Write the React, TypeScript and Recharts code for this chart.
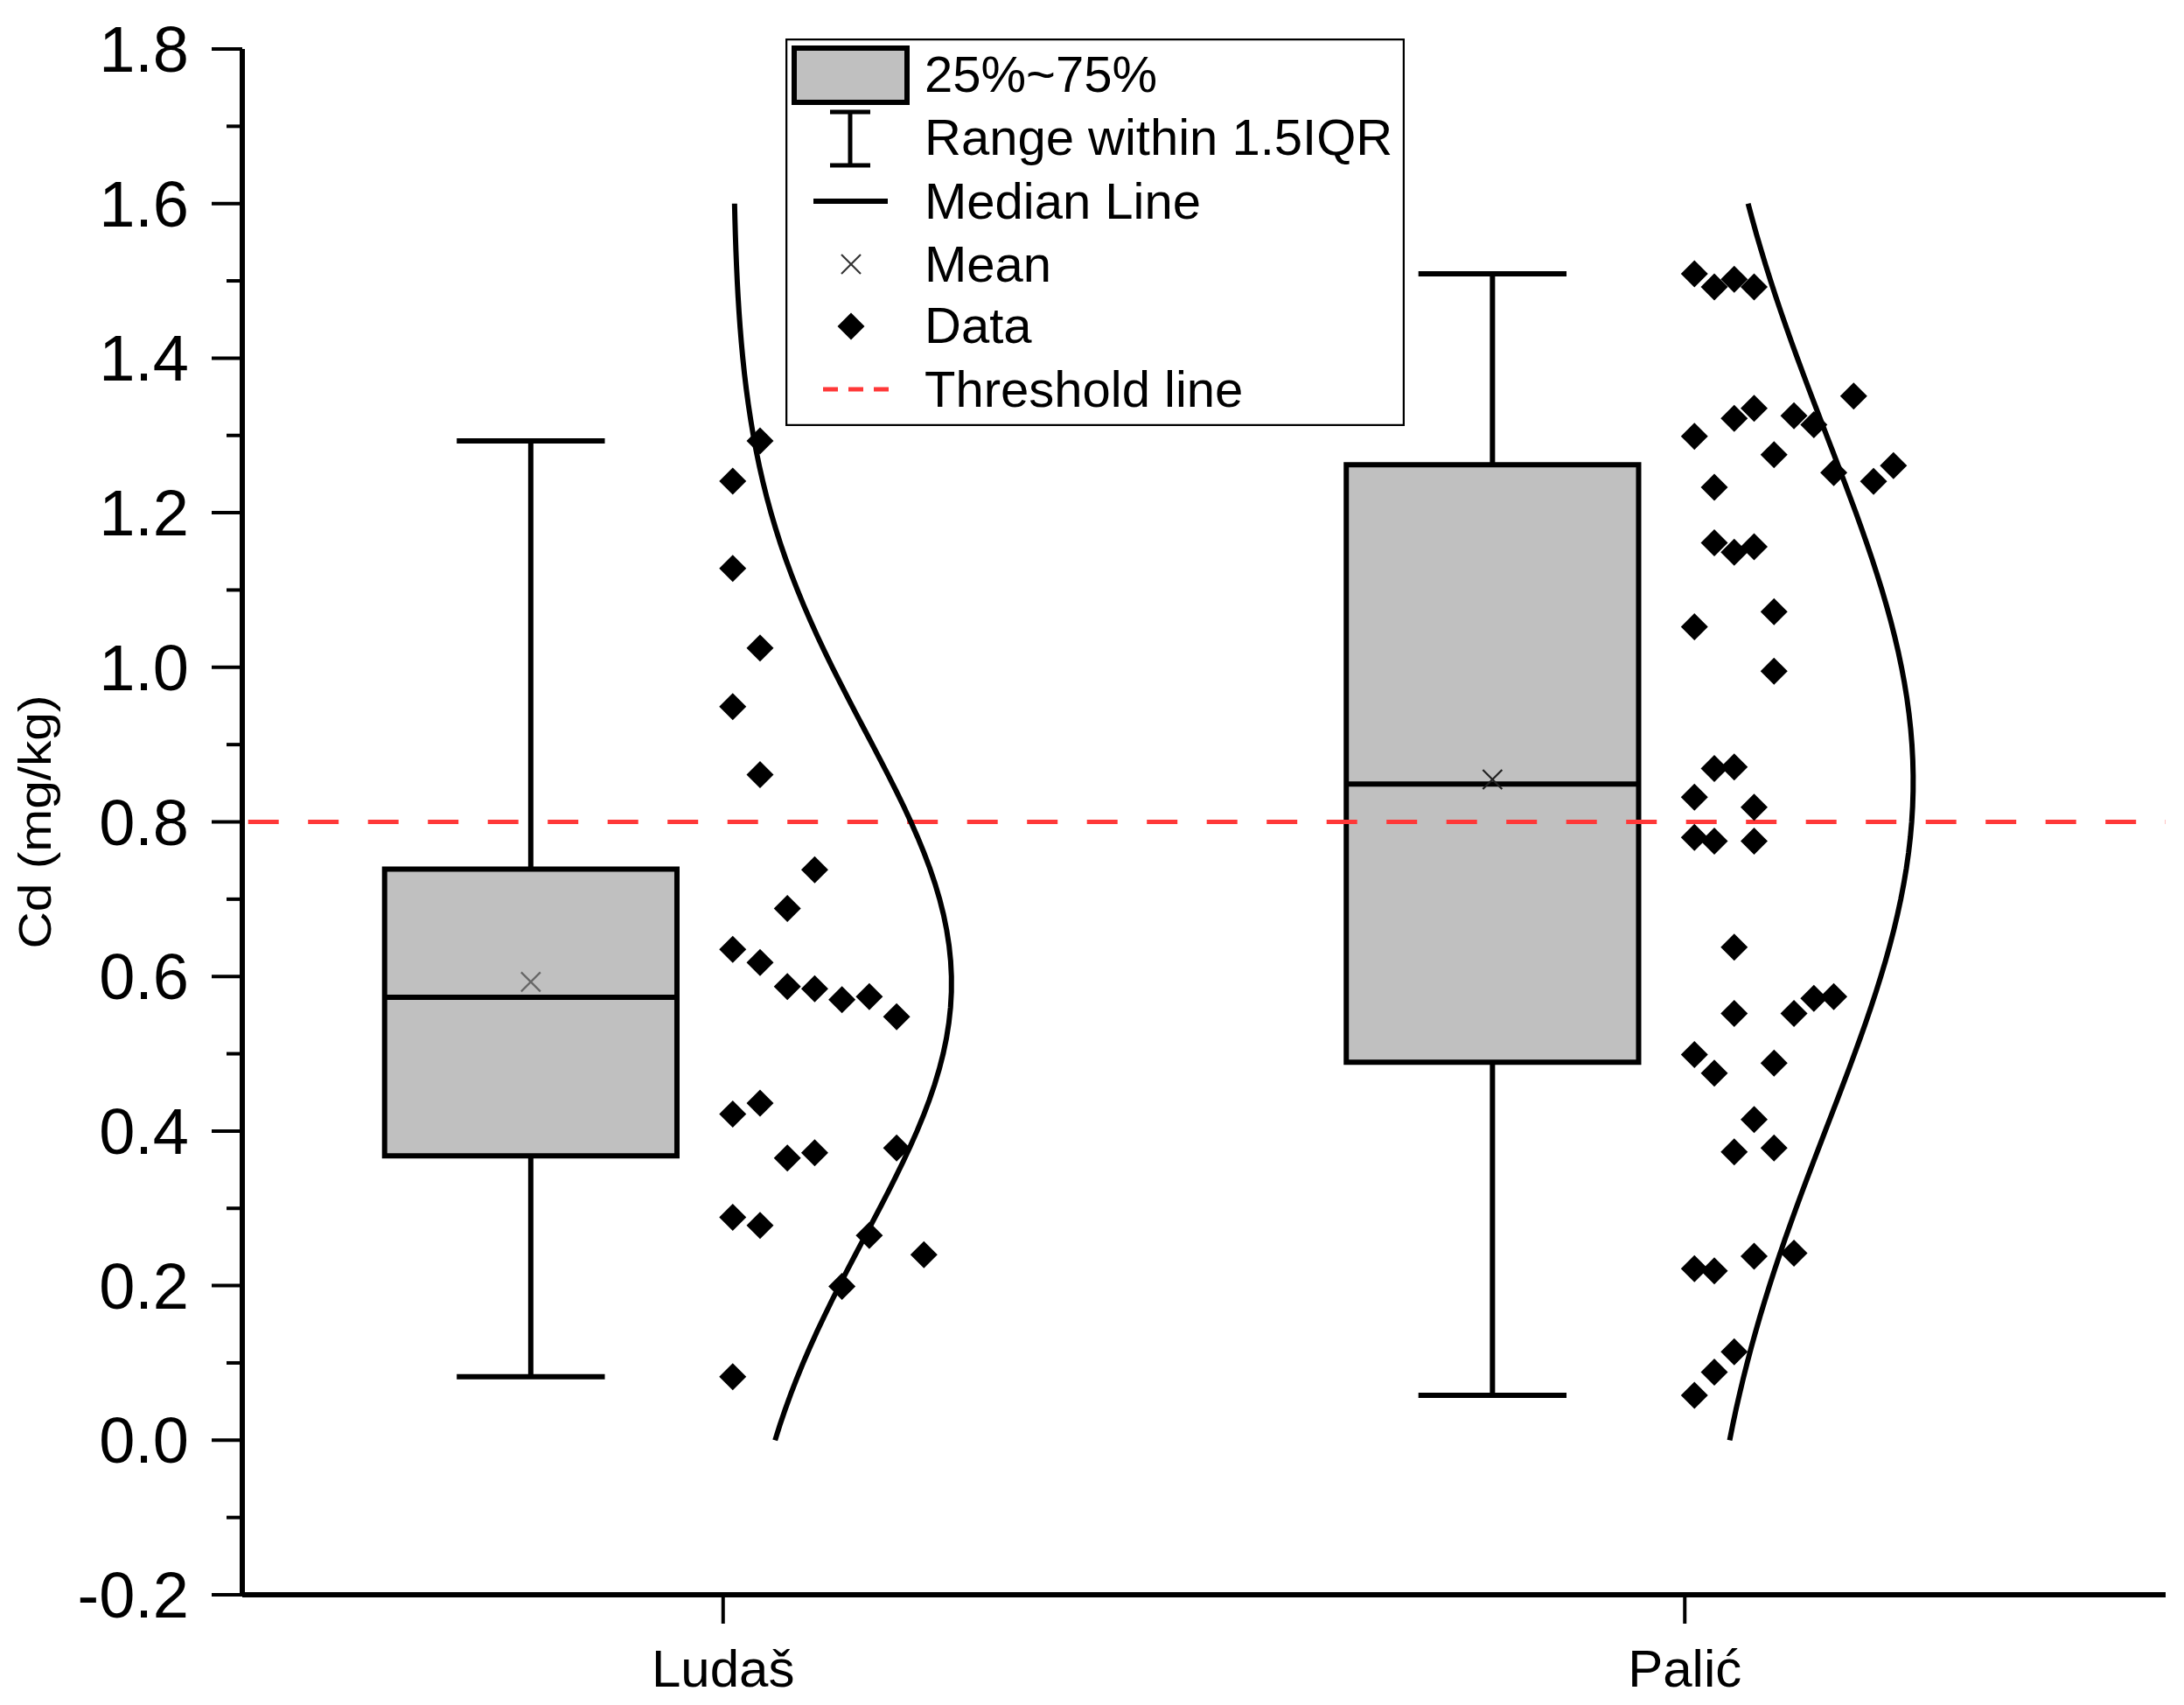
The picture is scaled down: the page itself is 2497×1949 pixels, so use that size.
import React from 'react';
import {
  ComposedChart,
  XAxis,
  YAxis,
  Scatter,
  ReferenceArea,
  ReferenceLine,
  Legend,
} from 'recharts';

// ---------------- data ----------------
const CATEGORIES = ['Ludaš', 'Palić'];
const CATEGORY_POS = [1, 2];

// Ludaš individual samples (Cd, mg/kg) and their beeswarm column
const LUDAS_VALUES = [
  1.293, 1.241, 1.128, 1.025, 0.949, 0.861, 0.738, 0.688, 0.635, 0.618, 0.587, 0.584, 0.57,
  0.574, 0.548, 0.422, 0.436, 0.365, 0.372, 0.378, 0.2885, 0.278, 0.265, 0.24, 0.199, 0.082,
];
const LUDAS_COLS = [1, 0, 0, 1, 0, 1, 3, 2, 0, 1, 2, 3, 4, 5, 6, 0, 1, 2, 3, 6, 0, 1, 5, 7, 4, 0];

// Palić individual samples
const PALIC_VALUES = [
  1.509, 1.492, 1.502, 1.492, 1.351, 1.335, 1.322, 1.3255, 1.314, 1.299, 1.275, 1.252, 1.261,
  1.2405, 1.233, 1.161, 1.149, 1.156, 1.072, 1.0525, 0.995, 0.869, 0.871, 0.832, 0.819, 0.78,
  0.775, 0.775, 0.638, 0.5716, 0.574, 0.552, 0.552, 0.499, 0.475, 0.488, 0.415, 0.373, 0.378,
  0.222, 0.219, 0.238, 0.242, 0.1145, 0.088, 0.058,
];
const PALIC_COLS = [
  0, 1, 2, 3, 8, 3, 2, 5, 6, 0, 4, 7, 10, 9, 1, 1, 2, 3, 4, 0, 4, 1, 2, 0, 3, 0, 1, 3, 2, 6, 7,
  2, 5, 0, 1, 4, 3, 2, 4, 0, 1, 3, 5, 2, 1, 0,
];

// box statistics
const BOX_Q1 = [0.368, 0.489];
const BOX_MEDIAN = [0.573, 0.849];
const BOX_Q3 = [0.739, 1.262];
const WHISKER_LOW = [0.082, 0.058];
const WHISKER_HIGH = [1.293, 1.509];
const MEANS = [0.593, 0.855];

const THRESHOLD = 0.8;
const CURVE_RANGE = [0, 1.6];

const Y_MAJOR_TICKS = [-0.2, 0, 0.2, 0.4, 0.6, 0.8, 1.0, 1.2, 1.4, 1.6, 1.8];
const Y_MINOR_TICKS = [-0.1, 0.1, 0.3, 0.5, 0.7, 0.9, 1.1, 1.3, 1.5, 1.7];
const Y_TITLE = 'Cd (mg/kg)';
const LEGEND_LABELS = ['25%~75%', 'Range within 1.5IQR', 'Median Line', 'Mean', 'Data', 'Threshold line'];

// ---------------- layout / style constants ----------------
const FONT = "'Liberation Sans', Arial, Helvetica, sans-serif";
const BOX_OFFSET = -0.2;
const BOX_HALF = 0.152;
const CAP_HALF = 0.077;
const DATA_OFFSET = 0.01;
const COL_SPACING = [0.0284, 0.0207];
const CURVE_AMP = 0.2275;
const RED = '#ff3838';
const LW = 6;
const MEAN_COLORS = ['#666', '#222'];

const GROUP_VALUES = [LUDAS_VALUES, PALIC_VALUES];
const GROUP_COLS = [LUDAS_COLS, PALIC_COLS];

const pointData = GROUP_VALUES.map((vals, g) =>
  vals.map((v, i) => ({
    x: CATEGORY_POS[g] + DATA_OFFSET + GROUP_COLS[g][i] * COL_SPACING[g],
    y: v,
  }))
);

// normal distribution curve fitted to each group's samples
const curveData = GROUP_VALUES.map((vals, g) => {
  const n = vals.length;
  const mean = vals.reduce((a, b) => a + b, 0) / n;
  const sd = Math.sqrt(vals.reduce((a, b) => a + (b - mean) * (b - mean), 0) / (n - 1));
  const pts: { x: number; y: number }[] = [];
  const steps = 80;
  for (let k = 0; k <= steps; k++) {
    const v = CURVE_RANGE[0] + ((CURVE_RANGE[1] - CURVE_RANGE[0]) * k) / steps;
    const dens = Math.exp(-((v - mean) * (v - mean)) / (2 * sd * sd));
    pts.push({ x: CATEGORY_POS[g] + DATA_OFFSET + CURVE_AMP * dens, y: v });
  }
  return pts;
});

const meanData = MEANS.map((m, g) => ({ x: CATEGORY_POS[g] + BOX_OFFSET, y: m, g }));

const Y_TICKS = [...Y_MAJOR_TICKS, ...Y_MINOR_TICKS].sort((a, b) => a - b);

// ---------------- shapes ----------------
const Diamond = (props: any) => {
  const { cx, cy } = props;
  const r = 15.5;
  return (
    <polygon
      points={`${cx},${cy - r} ${cx + r},${cy} ${cx},${cy + r} ${cx - r},${cy}`}
      fill="#000"
    />
  );
};

const MeanCross = (props: any) => {
  const { cx, cy, payload, color } = props;
  const r = 11;
  const c = color || (payload ? MEAN_COLORS[payload.g] : '#444');
  return (
    <g stroke={c} strokeWidth={2.2}>
      <line x1={cx - r} y1={cy - r} x2={cx + r} y2={cy + r} />
      <line x1={cx - r} y1={cy + r} x2={cx + r} y2={cy - r} />
    </g>
  );
};

const Empty = () => <g />;

const YTick = (props: any) => {
  const { x, y, payload } = props;
  const v = payload.value;
  const major = Y_MAJOR_TICKS.some((t) => Math.abs(t - v) < 1e-6);
  return (
    <g>
      <line x1={x} x2={x - (major ? 35 : 18)} y1={y} y2={y} stroke="#000" strokeWidth={4} />
      {major && (
        <text
          x={x - 61}
          y={y + 26}
          textAnchor="end"
          fontSize={74}
          fontFamily={FONT}
          fill="#000"
        >
          {v.toFixed(1)}
        </text>
      )}
    </g>
  );
};

const XTick = (props: any) => {
  const { x, y, payload } = props;
  const idx = CATEGORY_POS.indexOf(payload.value);
  return (
    <g>
      <line x1={x} x2={x} y1={y} y2={y + 33} stroke="#000" strokeWidth={4} />
      <text x={x} y={y + 105} textAnchor="middle" fontSize={60} fontFamily={FONT} fill="#000">
        {CATEGORIES[idx]}
      </text>
    </g>
  );
};

const YTitle = (props: any) => {
  const vb = props.viewBox || { x: 0, y: 48, width: 269, height: 1767 };
  const cx = vb.x + 32;
  const cy = vb.y + vb.height / 2;
  return (
    <text
      x={cx}
      y={cy}
      transform={`rotate(-90, ${cx}, ${cy})`}
      textAnchor="middle"
      dominantBaseline="central"
      fontSize={52}
      textLength={290}
      lengthAdjust="spacingAndGlyphs"
      fontFamily={FONT}
      fill="#000"
    >
      {Y_TITLE}
    </text>
  );
};

const LegendBox = () => {
  const tx = 159;
  const base = [61, 133, 206, 278, 348, 421];
  return (
    <svg width={708} height={443} style={{ display: 'block' }}>
      <rect x={1} y={1} width={706} height={441} fill="#fff" stroke="#000" strokeWidth={2.5} />
      {/* box */}
      <rect x={10} y={11} width={129} height={62} fill="#c0c0c0" stroke="#000" strokeWidth={6} />
      {/* whisker I-beam */}
      <g stroke="#000" strokeWidth={5}>
        <line x1={74} x2={74} y1={84} y2={145} />
        <line x1={51} x2={97} y1={84} y2={84} />
        <line x1={51} x2={97} y1={145} y2={145} />
      </g>
      {/* median */}
      <line x1={32} x2={117} y1={186} y2={186} stroke="#000" strokeWidth={6} />
      {/* mean */}
      <MeanCross cx={75} cy={258} color="#333" />
      {/* data */}
      <Diamond cx={75} cy={329} />
      {/* threshold */}
      <line x1={43} x2={122} y1={401} y2={401} stroke={RED} strokeWidth={5} strokeDasharray="17 12" />
      {LEGEND_LABELS.map((l, i) => (
        <text key={l} x={tx} y={base[i]} fontSize={58} fontFamily={FONT} fill="#000">
          {l}
        </text>
      ))}
    </svg>
  );
};

export default function App() {
  return (
    <div style={{ width: 2481, height: 1941, background: '#fff' }}>
      <ComposedChart
        width={2481}
        height={1941}
        margin={{ top: 48, right: 13, bottom: 16, left: 0 }}
      >
        <XAxis
          type="number"
          dataKey="x"
          domain={[0.5, 2.5]}
          allowDataOverflow
          ticks={CATEGORY_POS}
          interval={0}
          tick={<XTick />}
          tickLine={false}
          tickSize={0}
          tickMargin={0}
          height={110}
          axisLine={{ stroke: '#000', strokeWidth: LW }}
        />
        <YAxis
          type="number"
          dataKey="y"
          domain={[-0.2, 1.8]}
          allowDataOverflow
          ticks={Y_TICKS}
          interval={0}
          tick={<YTick />}
          tickLine={false}
          tickSize={0}
          tickMargin={0}
          width={269}
          axisLine={{ stroke: '#000', strokeWidth: LW }}
          label={<YTitle />}
        />
        <Legend
          layout="horizontal"
          verticalAlign="middle"
          align="center"
          wrapperStyle={{ position: 'absolute', left: 890, top: 36, width: 708, height: 443, margin: 0 }}
          content={() => <LegendBox />}
        />

        {CATEGORY_POS.map((p, g) => (
          <ReferenceArea
            key={`box-${g}`}
            x1={p + BOX_OFFSET - BOX_HALF}
            x2={p + BOX_OFFSET + BOX_HALF}
            y1={BOX_Q1[g]}
            y2={BOX_Q3[g]}
            fill="#c0c0c0"
            fillOpacity={1}
            stroke="#000"
            strokeWidth={LW}
          />
        ))}
        {CATEGORY_POS.map((p, g) => (
          <ReferenceLine
            key={`wh-${g}`}
            segment={[
              { x: p + BOX_OFFSET, y: BOX_Q3[g] },
              { x: p + BOX_OFFSET, y: WHISKER_HIGH[g] },
            ]}
            stroke="#000"
            strokeWidth={LW}
          />
        ))}
        {CATEGORY_POS.map((p, g) => (
          <ReferenceLine
            key={`wl-${g}`}
            segment={[
              { x: p + BOX_OFFSET, y: WHISKER_LOW[g] },
              { x: p + BOX_OFFSET, y: BOX_Q1[g] },
            ]}
            stroke="#000"
            strokeWidth={LW}
          />
        ))}
        {CATEGORY_POS.map((p, g) => (
          <ReferenceLine
            key={`ch-${g}`}
            segment={[
              { x: p + BOX_OFFSET - CAP_HALF, y: WHISKER_HIGH[g] },
              { x: p + BOX_OFFSET + CAP_HALF, y: WHISKER_HIGH[g] },
            ]}
            stroke="#000"
            strokeWidth={LW}
          />
        ))}
        {CATEGORY_POS.map((p, g) => (
          <ReferenceLine
            key={`cl-${g}`}
            segment={[
              { x: p + BOX_OFFSET - CAP_HALF, y: WHISKER_LOW[g] },
              { x: p + BOX_OFFSET + CAP_HALF, y: WHISKER_LOW[g] },
            ]}
            stroke="#000"
            strokeWidth={LW}
          />
        ))}
        {CATEGORY_POS.map((p, g) => (
          <ReferenceLine
            key={`md-${g}`}
            segment={[
              { x: p + BOX_OFFSET - BOX_HALF, y: BOX_MEDIAN[g] },
              { x: p + BOX_OFFSET + BOX_HALF, y: BOX_MEDIAN[g] },
            ]}
            stroke="#000"
            strokeWidth={LW}
          />
        ))}
        <ReferenceLine
          y={THRESHOLD}
          stroke={RED}
          strokeWidth={5}
          strokeDasharray="35 33.5"
          strokeDashoffset={61.8}
        />

        {curveData.map((c, g) => (
          <Scatter
            key={`curve-${g}`}
            data={c}
            line={{ stroke: '#000', strokeWidth: LW }}
            lineType="joint"
            shape={<Empty />}
            fill="#000"
            isAnimationActive={false}
            legendType="none"
          />
        ))}
        {pointData.map((d, g) => (
          <Scatter
            key={`pts-${g}`}
            data={d}
            shape={<Diamond />}
            fill="#000"
            isAnimationActive={false}
            legendType="none"
          />
        ))}
        <Scatter
          data={meanData}
          shape={<MeanCross />}
          fill="#555"
          isAnimationActive={false}
          legendType="none"
        />
      </ComposedChart>
    </div>
  );
}
